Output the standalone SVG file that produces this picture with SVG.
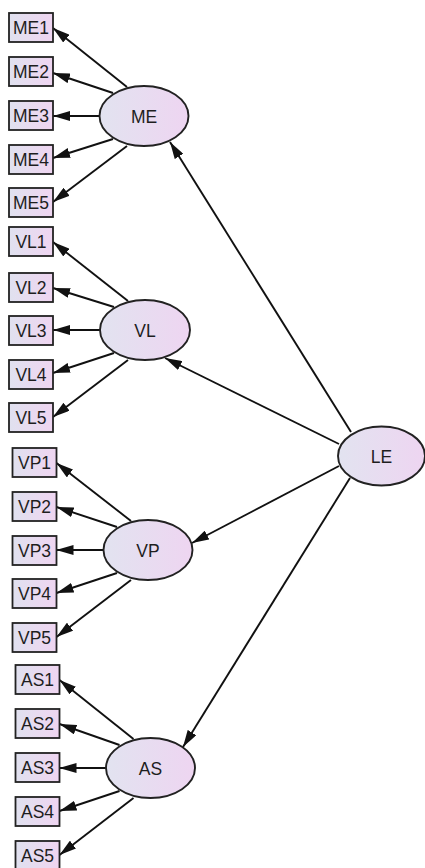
<svg xmlns="http://www.w3.org/2000/svg" width="425" height="868" viewBox="0 0 425 868">
<style>
.box{fill:url(#gb);stroke:#222;stroke-width:1.8}
.lat{fill:url(#ge);stroke:#222;stroke-width:1.9}
.t{font-family:"Liberation Sans",Arial,Helvetica,sans-serif;font-size:17.5px;fill:#1e1e1e;text-anchor:middle}
.c{stroke:#111;stroke-width:1.9;fill:none;marker-end:url(#ah)}
</style>
<defs>
<linearGradient id="gb" x1="0" y1="0" x2="1" y2="0">
<stop offset="0" stop-color="#e0e1ef"/>
<stop offset="1" stop-color="#efd5f1"/>
</linearGradient>
<linearGradient id="ge" x1="0" y1="0" x2="1" y2="0">
<stop offset="0" stop-color="#e2e3f0"/>
<stop offset="1" stop-color="#eed5f1"/>
</linearGradient>
<marker id="ah" viewBox="0 0 17 10" refX="17" refY="5" markerWidth="17" markerHeight="10" markerUnits="userSpaceOnUse" orient="auto">
<path d="M0,0 L17,5 L0,10 z" fill="#111"/>
</marker>
</defs>
<rect width="425" height="868" fill="#fff"/>
<g id="connectors">
<line class="c" x1="127" y1="87" x2="53" y2="28"/>
<line class="c" x1="113" y1="93" x2="53" y2="73"/>
<line class="c" x1="99.5" y1="116" x2="53" y2="116"/>
<line class="c" x1="113" y1="139" x2="53" y2="158"/>
<line class="c" x1="127" y1="146" x2="53" y2="202"/>
<line class="c" x1="128" y1="301" x2="53" y2="242"/>
<line class="c" x1="114" y1="307" x2="53" y2="288"/>
<line class="c" x1="100.5" y1="330" x2="53" y2="330"/>
<line class="c" x1="114" y1="353" x2="53" y2="373"/>
<line class="c" x1="128" y1="360" x2="53" y2="417"/>
<line class="c" x1="131" y1="521" x2="56.5" y2="463"/>
<line class="c" x1="117" y1="527" x2="56.5" y2="507"/>
<line class="c" x1="103.5" y1="550" x2="56.5" y2="550"/>
<line class="c" x1="117" y1="573" x2="56.5" y2="593"/>
<line class="c" x1="131" y1="580" x2="56.5" y2="637"/>
<line class="c" x1="133.5" y1="739" x2="59.5" y2="680"/>
<line class="c" x1="119.5" y1="745" x2="59.5" y2="724"/>
<line class="c" x1="106" y1="768" x2="59.5" y2="768"/>
<line class="c" x1="119.5" y1="791" x2="59.5" y2="811"/>
<line class="c" x1="133.5" y1="798" x2="59.5" y2="855"/>
<line class="c" x1="351" y1="432" x2="170" y2="142"/>
<line class="c" x1="339" y1="444" x2="165" y2="358"/>
<line class="c" x1="339" y1="466" x2="192" y2="543"/>
<line class="c" x1="350" y1="478" x2="183" y2="747"/>
</g>
<g id="ME1"><rect class="box" x="9" y="13" width="44" height="29"/><text class="t" x="31" y="34">ME1</text></g>
<g id="ME2"><rect class="box" x="9" y="57" width="44" height="29"/><text class="t" x="31" y="78">ME2</text></g>
<g id="ME3"><rect class="box" x="9" y="101" width="44" height="29"/><text class="t" x="31" y="122">ME3</text></g>
<g id="ME4"><rect class="box" x="9" y="145" width="44" height="29"/><text class="t" x="31" y="166">ME4</text></g>
<g id="ME5"><rect class="box" x="9" y="188" width="44" height="29"/><text class="t" x="31" y="209">ME5</text></g>
<g id="VL1"><rect class="box" x="9" y="227" width="44" height="29"/><text class="t" x="31" y="248">VL1</text></g>
<g id="VL2"><rect class="box" x="9" y="273" width="44" height="29"/><text class="t" x="31" y="294">VL2</text></g>
<g id="VL3"><rect class="box" x="9" y="316" width="44" height="29"/><text class="t" x="31" y="337">VL3</text></g>
<g id="VL4"><rect class="box" x="9" y="360" width="44" height="29"/><text class="t" x="31" y="381">VL4</text></g>
<g id="VL5"><rect class="box" x="9" y="403" width="44" height="29"/><text class="t" x="31" y="424">VL5</text></g>
<g id="VP1"><rect class="box" x="12.5" y="448" width="44" height="29"/><text class="t" x="34.5" y="469">VP1</text></g>
<g id="VP2"><rect class="box" x="12.5" y="492" width="44" height="29"/><text class="t" x="34.5" y="513">VP2</text></g>
<g id="VP3"><rect class="box" x="12.5" y="536" width="44" height="29"/><text class="t" x="34.5" y="557">VP3</text></g>
<g id="VP4"><rect class="box" x="12.5" y="579" width="44" height="29"/><text class="t" x="34.5" y="600">VP4</text></g>
<g id="VP5"><rect class="box" x="12.5" y="623" width="44" height="29"/><text class="t" x="34.5" y="644">VP5</text></g>
<g id="AS1"><rect class="box" x="15.5" y="665" width="44" height="29"/><text class="t" x="37.5" y="686">AS1</text></g>
<g id="AS2"><rect class="box" x="15.5" y="709" width="44" height="29"/><text class="t" x="37.5" y="730">AS2</text></g>
<g id="AS3"><rect class="box" x="15.5" y="753" width="44" height="29"/><text class="t" x="37.5" y="774">AS3</text></g>
<g id="AS4"><rect class="box" x="15.5" y="797" width="44" height="29"/><text class="t" x="37.5" y="818">AS4</text></g>
<g id="AS5"><rect class="box" x="15.5" y="841" width="44" height="29"/><text class="t" x="37.5" y="862">AS5</text></g>
<g id="ME"><ellipse class="lat" cx="144" cy="116" rx="44.5" ry="30"/><text class="t" x="144" y="122.5">ME</text></g>
<g id="VL"><ellipse class="lat" cx="145" cy="330" rx="45" ry="30"/><text class="t" x="145" y="336.5">VL</text></g>
<g id="VP"><ellipse class="lat" cx="148" cy="550" rx="44.5" ry="30"/><text class="t" x="148" y="556.5">VP</text></g>
<g id="AS"><ellipse class="lat" cx="150.5" cy="768" rx="44.5" ry="30"/><text class="t" x="150.5" y="774.5">AS</text></g>
<g id="LE"><ellipse class="lat" cx="381.5" cy="456" rx="43.5" ry="29.5"/><text class="t" x="381.5" y="462.5">LE</text></g>
</svg>
